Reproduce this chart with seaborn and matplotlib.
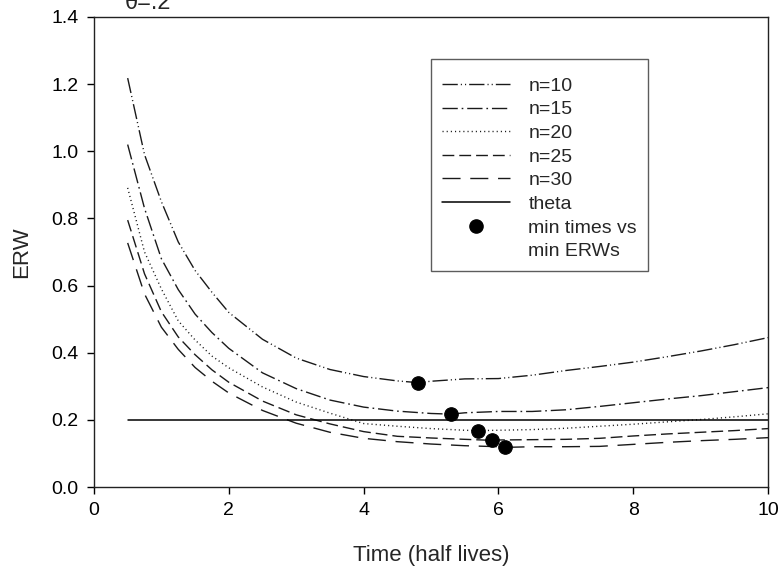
import matplotlib
matplotlib.use("Agg")
import matplotlib.pyplot as plt
from matplotlib.lines import Line2D
import seaborn as sns
import pandas as pd

# ---- data ----
time = [0.5, 0.75, 1.0, 1.25, 1.5, 1.75, 2.0, 2.5, 3.0, 3.5, 4.0, 4.5,
        5.0, 5.5, 6.0, 6.5, 7.0, 7.5, 8.0, 8.5, 9.0, 9.5, 10.0]
erw_n10 = [1.218, 0.99, 0.85, 0.73, 0.645, 0.58, 0.52, 0.44, 0.384, 0.35, 0.329, 0.316,
           0.315, 0.322, 0.323, 0.333, 0.347, 0.359, 0.372, 0.388, 0.405, 0.424, 0.445]
erw_n15 = [1.02, 0.83, 0.68, 0.588, 0.515, 0.46, 0.413, 0.34, 0.293, 0.259, 0.238, 0.226,
           0.219, 0.221, 0.225, 0.225, 0.23, 0.24, 0.251, 0.262, 0.272, 0.284, 0.296]
erw_n20 = [0.891, 0.70, 0.59, 0.495, 0.438, 0.39, 0.355, 0.298, 0.253, 0.22, 0.189, 0.181,
           0.174, 0.169, 0.169, 0.171, 0.175, 0.181, 0.187, 0.194, 0.201, 0.209, 0.218]
erw_n25 = [0.795, 0.635, 0.522, 0.447, 0.394, 0.349, 0.312, 0.256, 0.215, 0.188, 0.165, 0.151,
           0.146, 0.142, 0.14, 0.141, 0.142, 0.145, 0.152, 0.158, 0.163, 0.168, 0.174]
erw_n30 = [0.727, 0.575, 0.476, 0.41, 0.356, 0.315, 0.28, 0.228, 0.19, 0.163, 0.145, 0.135,
           0.128, 0.123, 0.12, 0.12, 0.12, 0.121, 0.127, 0.133, 0.138, 0.142, 0.147]
series_labels = ["n=10", "n=15", "n=20", "n=25", "n=30"]
min_times = [4.8, 5.3, 5.7, 5.9, 6.1]
min_erws = [0.311, 0.217, 0.168, 0.139, 0.118]
theta = 0.2
x_ticks = [0, 2, 4, 6, 8, 10]
y_ticks = [0.0, 0.2, 0.4, 0.6, 0.8, 1.0, 1.2, 1.4]

# ---- build long table (curve points + the minimum point of each curve) ----
curves = [erw_n10, erw_n15, erw_n20, erw_n25, erw_n30]
rows = []
for lab, vals, mt, me in zip(series_labels, curves, min_times, min_erws):
    for t, v in zip(time, vals):
        rows.append((lab, t, v))
    rows.append((lab, mt, me))
df = pd.DataFrame(rows, columns=["series", "time", "erw"]).sort_values(["series", "time"])

sns.set_style("white")
plt.rcParams["font.family"] = ["Liberation Sans", "DejaVu Sans"]

fig = plt.figure(figsize=(7.83, 5.72), dpi=100)
ax = fig.add_axes([0.120, 0.1486, 0.861, 0.8217])

dash_styles = {
    "n=10": (0, (11, 2.2, 0.8, 2.2, 0.8, 2.2)),
    "n=15": (0, (11, 2.8, 1.2, 2.8)),
    "n=20": (0, (0.8, 2.2)),
    "n=25": (0, (8.5, 3.6)),
    "n=30": (0, (13, 7)),
}
line_color = "#1a1a1a"
handles = []
for lab in series_labels:
    sub = df[df["series"] == lab]
    sns.lineplot(data=sub, x="time", y="erw", ax=ax, color=line_color, lw=1.0,
                 linestyle=dash_styles[lab], sort=True, estimator=None, legend=False)
    handles.append(Line2D([], [], color=line_color, lw=1.0, linestyle=dash_styles[lab]))

sns.lineplot(x=[time[0], time[-1]], y=[theta, theta], ax=ax, color="black", lw=1.1,
             legend=False)
handles.append(Line2D([], [], color="black", lw=1.1))

sns.scatterplot(x=min_times, y=min_erws, ax=ax, color="black", s=95,
                edgecolor="black", zorder=6, legend=False)
handles.append(Line2D([], [], color="black", marker="o", markersize=9.5, lw=0))
handles.append(Line2D([], [], color="none", lw=0))
labels = series_labels + ["theta", "min times vs", "min ERWs"]

ax.set_xlim(0, 10)
ax.set_ylim(0, 1.4)
ax.set_xticks(x_ticks)
ax.set_xticklabels([str(v) for v in x_ticks])
ax.set_yticks(y_ticks)
ax.set_yticklabels([f"{v:.1f}" for v in y_ticks])
ax.tick_params(axis="both", direction="out", length=5, width=1, labelsize=14,
               pad=6, colors="black")
ax.tick_params(top=False, right=False, bottom=True, left=True)
for sp in ax.spines.values():
    sp.set_visible(True)
    sp.set_color("#222222")
    sp.set_linewidth(1.0)
ax.set_xlabel("Time (half lives)", fontsize=16, labelpad=18.5)
ax.set_ylabel("ERW", fontsize=16, labelpad=14)

leg = ax.legend(handles, labels, loc="upper left", bbox_to_anchor=(0.5, 0.9106),
                frameon=True, fancybox=False, fontsize=14, handlelength=3.5,
                handletextpad=0.93, labelspacing=0.31, borderpad=0.57,
                borderaxespad=0, title=" ", title_fontsize=1)
leg.get_frame().set_edgecolor("#333333")
leg.get_frame().set_linewidth(1.0)

fig.text(125 / 783, 1 - 9 / 572, "θ=.2", fontsize=17, ha="left", va="baseline")

fig.savefig("out.png", dpi=100)
